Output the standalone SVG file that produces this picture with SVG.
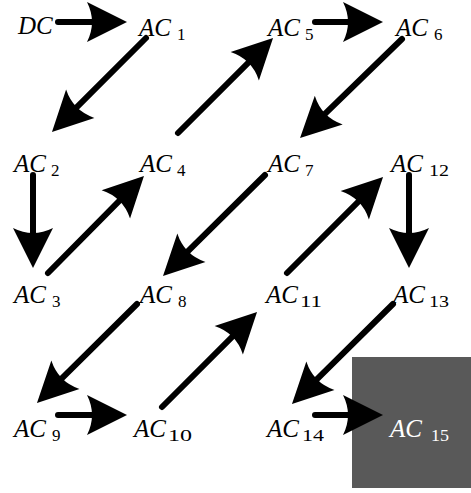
<svg xmlns="http://www.w3.org/2000/svg" width="471" height="493" viewBox="0 0 471 493">
<style>
.m{font-style:italic;font-size:25px;fill:#000}
.s{font-size:17px;fill:#000}
.w{fill:#fff}
.c{stroke:#000;stroke-width:6;stroke-linecap:round;fill:none;marker-end:url(#ah)}
</style>
<defs>
<marker id="ah" markerUnits="userSpaceOnUse" markerWidth="40" markerHeight="40" viewBox="0 0 40 40" refX="20" refY="20" orient="auto" overflow="visible">
<path d="M40,20 L0,0 Q10,20 0,40 Z" fill="#000"/>
</marker>
</defs>
<rect x="352" y="357" width="119" height="131" fill="#595959"/>
<g id="connectors">
<line class="c" x1="58" y1="22" x2="107" y2="22"/>
<line class="c" x1="146" y1="38" x2="66.1" y2="117.9"/>
<line class="c" x1="33" y1="175" x2="33" y2="248"/>
<line class="c" x1="48" y1="273" x2="129.9" y2="190.2"/>
<line class="c" x1="178" y1="133" x2="258.9" y2="52.1"/>
<line class="c" x1="315" y1="22" x2="363" y2="22"/>
<line class="c" x1="402" y1="39" x2="314.4" y2="124.1"/>
<line class="c" x1="265" y1="175" x2="177.2" y2="261.9"/>
<line class="c" x1="137" y1="304" x2="51.2" y2="388.9"/>
<line class="c" x1="58" y1="415" x2="107" y2="415"/>
<line class="c" x1="162" y1="407" x2="242.9" y2="326.1"/>
<line class="c" x1="287" y1="273" x2="368.9" y2="191.1"/>
<line class="c" x1="409" y1="175" x2="409" y2="248"/>
<line class="c" x1="393" y1="304" x2="306.2" y2="389.9"/>
<line class="c" x1="315" y1="415" x2="363" y2="415"/>
</g>
<g font-family="Liberation Serif, Times New Roman, serif">
<g id="DC"><text class="m" x="18" y="34">DC</text></g>
<g id="AC1"><text class="m" x="139" y="36">AC</text><text class="s" x="177" y="40">1</text></g>
<g id="AC2"><text class="m" x="14" y="172">AC</text><text class="s" x="51" y="176">2</text></g>
<g id="AC3"><text class="m" x="14" y="303">AC</text><text class="s" x="52" y="307">3</text></g>
<g id="AC4"><text class="m" x="140" y="172">AC</text><text class="s" x="177" y="176">4</text></g>
<g id="AC5"><text class="m" x="268" y="36">AC</text><text class="s" x="305" y="40">5</text></g>
<g id="AC6"><text class="m" x="396" y="36">AC</text><text class="s" x="434" y="40">6</text></g>
<g id="AC7"><text class="m" x="268" y="172">AC</text><text class="s" x="305" y="176">7</text></g>
<g id="AC8"><text class="m" x="140" y="303">AC</text><text class="s" x="178" y="307">8</text></g>
<g id="AC9"><text class="m" x="14" y="437">AC</text><text class="s" x="52" y="441">9</text></g>
<g id="AC10"><text class="m" x="134" y="437">AC</text><text class="s" x="168" y="441" textLength="24" lengthAdjust="spacingAndGlyphs">10</text></g>
<g id="AC11"><text class="m" x="266" y="303">AC</text><text class="s" x="300" y="307" textLength="22" lengthAdjust="spacingAndGlyphs">11</text></g>
<g id="AC12"><text class="m" x="391" y="172">AC</text><text class="s" x="429" y="176" textLength="20" lengthAdjust="spacingAndGlyphs">12</text></g>
<g id="AC13"><text class="m" x="393" y="303">AC</text><text class="s" x="429" y="307" textLength="20" lengthAdjust="spacingAndGlyphs">13</text></g>
<g id="AC14"><text class="m" x="267" y="437">AC</text><text class="s" x="302" y="441" textLength="22" lengthAdjust="spacingAndGlyphs">14</text></g>
<g id="AC15"><text class="m w" x="390" y="437">AC</text><text class="s w" x="431" y="441" textLength="18" lengthAdjust="spacingAndGlyphs">15</text></g>
</g>
</svg>
